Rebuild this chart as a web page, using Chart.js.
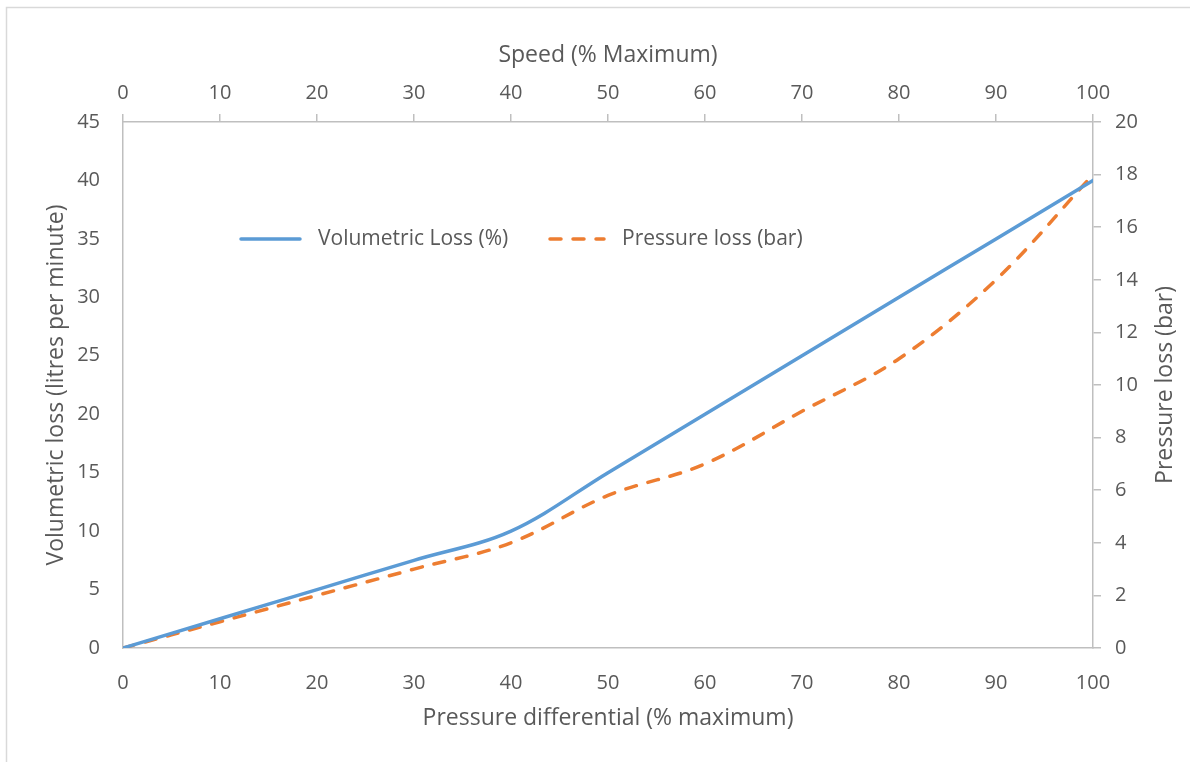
<!DOCTYPE html>
<html>
<head>
<meta charset="utf-8">
<script src="https://cdn.jsdelivr.net/npm/chart.js@4/dist/chart.umd.min.js"></script>
<style>
  html, body { margin: 0; padding: 0; background: #fff; }
  canvas { display: block; }
</style>
</head>
<body>
<canvas id="chart" width="1190" height="762"></canvas>
<script>
// data
const pressureDiff = [0, 10, 20, 30, 40, 50, 60, 70, 80, 90, 100];
const volumetricLoss = [0, 2.5, 5, 7.5, 10, 15, 20, 25, 30, 35, 40];
const pressureLoss = [0, 1, 2, 3, 4, 5.8, 7, 9, 11, 14, 18];
const seriesLabels = ['Volumetric Loss (%)', 'Pressure loss (bar)'];
const rightTitle = 'Pressure loss (bar)';

const textColor = '#595959';
const axisColor = '#BFBFBF';
const fontFamily = '"Open Sans", sans-serif';

const frame = {
    id: 'frame',
    beforeDraw(chart) {
        const ctx = chart.ctx;
        ctx.save();
        ctx.fillStyle = '#fff';
        ctx.fillRect(0, 0, chart.width, chart.height);
        ctx.strokeStyle = '#D9D9D9';
        ctx.lineWidth = 1.5;
        ctx.beginPath();
        ctx.moveTo(6.5, chart.height);
        ctx.lineTo(6.5, 7.5);
        ctx.lineTo(chart.width, 7.5);
        ctx.stroke();
        ctx.restore();
    }
};

// right axis title reads bottom-to-top in the original, chart.js flips it, so draw it here
const rightAxisTitle = {
    id: 'rightAxisTitle',
    afterDraw(chart) {
        const ctx = chart.ctx;
        const area = chart.chartArea;
        ctx.save();
        ctx.translate(chart.width - 25, (area.top + area.bottom) / 2);
        ctx.rotate(-Math.PI / 2);
        ctx.fillStyle = textColor;
        ctx.font = '23px ' + fontFamily;
        ctx.textAlign = 'center';
        ctx.textBaseline = 'middle';
        ctx.fillText(rightTitle, 0, 0);
        ctx.restore();
    }
};

// legend sits inside the plot, like the original
const innerLegend = {
    id: 'innerLegend',
    afterDatasetsDraw(chart) {
        const ctx = chart.ctx;
        const area = chart.chartArea;
        const y = area.top + 117;
        const items = [
            { x0: area.left + 118, x1: area.left + 177, tx: area.left + 195 },
            { x0: area.left + 427, x1: area.left + 481, tx: area.left + 499 }
        ];
        ctx.save();
        chart.data.datasets.forEach((ds, i) => {
            const it = items[i];
            ctx.strokeStyle = ds.borderColor;
            ctx.lineWidth = ds.borderWidth;
            ctx.lineCap = ds.borderCapStyle || 'butt';
            ctx.setLineDash(ds.borderDash || []);
            ctx.beginPath();
            ctx.moveTo(it.x0, y);
            ctx.lineTo(it.x1, y);
            ctx.stroke();
            ctx.setLineDash([]);
            ctx.fillStyle = textColor;
            ctx.font = '21px ' + fontFamily;
            ctx.textBaseline = 'middle';
            ctx.textAlign = 'left';
            ctx.fillText(ds.label, it.tx, y);
        });
        ctx.restore();
    }
};

const ctx = document.getElementById('chart').getContext('2d');
new Chart(ctx, {
    type: 'line',
    data: {
        datasets: [
            {
                label: seriesLabels[0],
                data: pressureDiff.map((x, i) => ({ x: x, y: volumetricLoss[i] })),
                borderColor: '#5B9BD5',
                borderWidth: 3.5,
                borderCapStyle: 'round',
                pointRadius: 0,
                tension: 0.35,
                xAxisID: 'x',
                yAxisID: 'y'
            },
            {
                label: seriesLabels[1],
                data: pressureDiff.map((x, i) => ({ x: x, y: pressureLoss[i] })),
                borderColor: '#ED7D31',
                borderWidth: 3.5,
                borderDash: [11, 12],
                borderCapStyle: 'round',
                pointRadius: 0,
                tension: 0.35,
                xAxisID: 'x',
                yAxisID: 'y2'
            }
        ]
    },
    options: {
        responsive: false,
        devicePixelRatio: 1,
        animation: false,
        layout: { padding: 0 },
        plugins: {
            legend: { display: false },
            tooltip: { enabled: false }
        },
        scales: {
            x: {
                type: 'linear',
                position: 'bottom',
                min: 0,
                max: 100,
                grid: { display: false },
                border: { display: true, color: axisColor, width: 1.5 },
                ticks: { stepSize: 10, color: textColor, padding: 15, font: { family: fontFamily, size: 20 }, maxRotation: 0 },
                title: { display: true, text: 'Pressure differential (% maximum)', color: textColor, font: { family: fontFamily, size: 23 }, padding: { top: 0, bottom: 30 } },
                afterFit: s => { s.height = 114; }
            },
            x2: {
                type: 'linear',
                position: 'top',
                min: 0,
                max: 100,
                grid: { display: true, drawOnChartArea: false, drawTicks: true, tickLength: 8, color: axisColor, lineWidth: 1.5 },
                border: { display: true, color: axisColor, width: 1.5 },
                ticks: { stepSize: 10, color: textColor, padding: 9, font: { family: fontFamily, size: 20 }, maxRotation: 0 },
                title: { display: true, text: 'Speed (% Maximum)', color: textColor, font: { family: fontFamily, size: 23 }, padding: { top: 42, bottom: 0 } },
                afterFit: s => { s.height = 122; }
            },
            y: {
                position: 'left',
                min: 0,
                max: 45,
                grid: { display: false },
                border: { display: true, color: axisColor, width: 1.5 },
                ticks: { stepSize: 5, color: textColor, padding: 15, font: { family: fontFamily, size: 20 } },
                title: { display: true, text: 'Volumetric loss (litres per minute)', color: textColor, font: { family: fontFamily, size: 23 }, padding: { top: 43, bottom: 0 } },
                afterFit: s => { s.width = 123; }
            },
            y2: {
                position: 'right',
                min: 0,
                max: 20,
                grid: { display: true, drawOnChartArea: false, drawTicks: true, tickLength: 8, color: axisColor, lineWidth: 1.5 },
                border: { display: true, color: axisColor, width: 1.5 },
                ticks: { stepSize: 2, color: textColor, padding: 14, font: { family: fontFamily, size: 20 } },
                title: { display: false },
                afterFit: s => { s.width = 97; }
            }
        }
    },
    plugins: [frame, rightAxisTitle, innerLegend]
});
</script>
</body>
</html>
